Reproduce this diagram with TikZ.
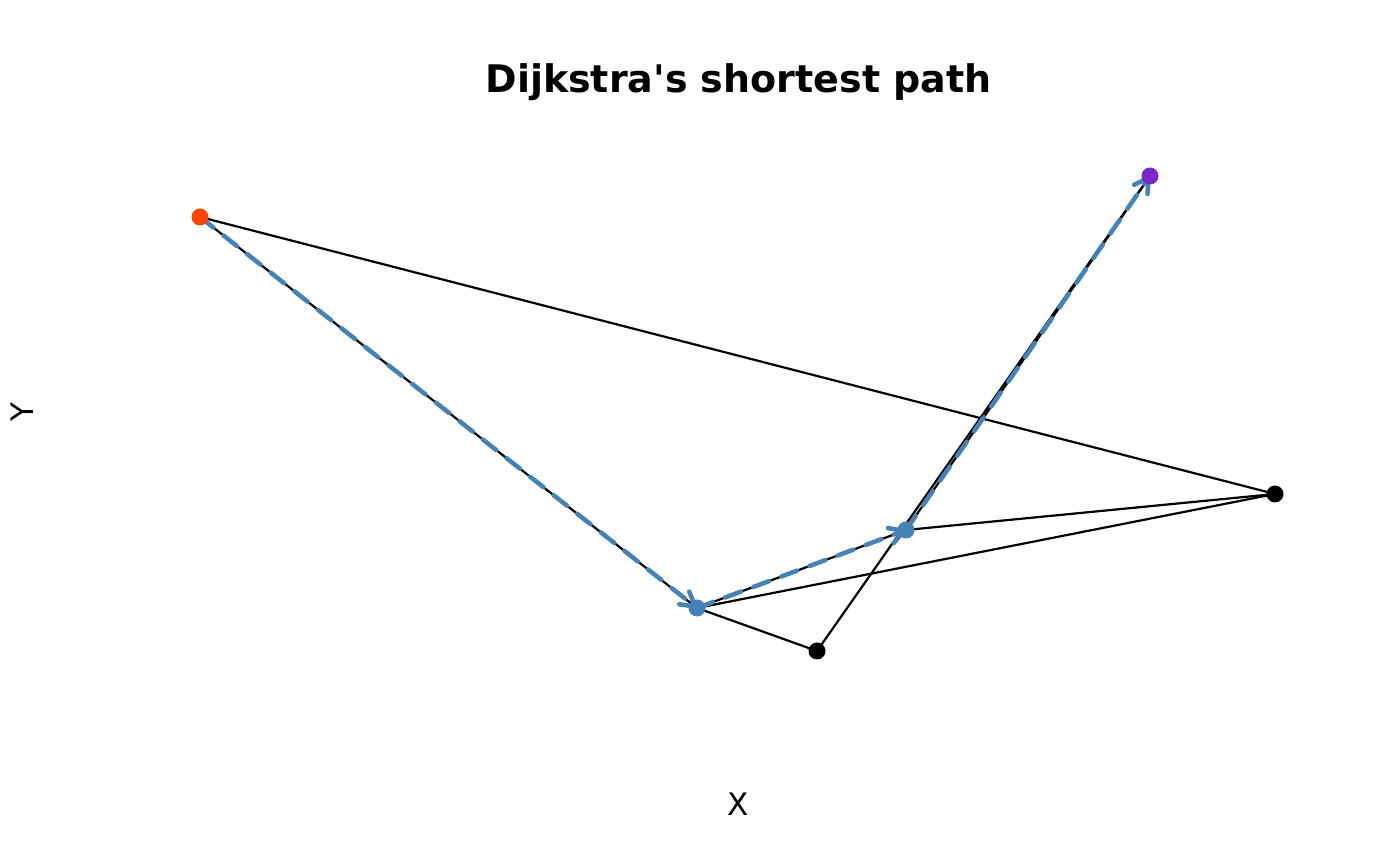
\documentclass[tikz,border=0pt]{standalone}
\usepackage{fontspec}
\setmainfont{DejaVu Sans}[Ligatures=TeXOff]
\usetikzlibrary{arrows.meta}
\definecolor{steel}{HTML}{4682B4}
\definecolor{orangered}{HTML}{FF4500}
\definecolor{violetnode}{HTML}{7B28C8}
\tikzset{
  edge/.style={black, line width=2.2pt},
  pathedge/.style={steel, line width=4.5pt, line cap=round, dash pattern=on 17pt off 13pt,
    -{Straight Barb[angle'=60, length=14pt, round]}},
  dot/.style={circle, inner sep=0pt, minimum size=17pt, draw=none},
  lbl/.style={font=\fontsize{31}{31}\selectfont}
}
\begin{document}
\begin{tikzpicture}[x=1pt,y=1pt]
\useasboundingbox (0,0) rectangle (1400,866);
\fill[white] (0,0) rectangle (1400,866);
\coordinate (A) at (200,649);
\coordinate (B) at (1150,690);
\coordinate (C) at (1275,372);
\coordinate (D) at (906,336);
\coordinate (E) at (697,258);
\coordinate (F) at (817,215);
% edges
\draw[edge] (A) -- (C);
\draw[edge] (A) -- (E);
\draw[edge] (E) -- (F);
\draw[edge] (E) -- (D);
\draw[edge] (E) -- (C);
\draw[edge] (D) -- (C);
\draw[edge] (F) -- (B);
\draw[edge] (D) -- (B);
% shortest path
\draw[pathedge] (A) -- (E);
\draw[pathedge] (E) -- (D);
\draw[pathedge] (D) -- (B);
% vertices
\node[dot, fill=orangered] (nA) at (A) {};
\node[dot, fill=violetnode] (nB) at (B) {};
\node[dot, fill=black] (nC) at (C) {};
\node[dot, fill=steel] (nD) at (D) {};
\node[dot, fill=steel] (nE) at (E) {};
\node[dot, fill=black] (nF) at (F) {};
% labels
\node[font=\fontsize{38}{38}\selectfont\bfseries] (title) at (738.5,784) {Dijkstra's shortest path};
\node[lbl] (xl) at (738,62) {X};
\node[lbl, rotate=90] (yl) at (22,454) {Y};
\end{tikzpicture}
\end{document}
